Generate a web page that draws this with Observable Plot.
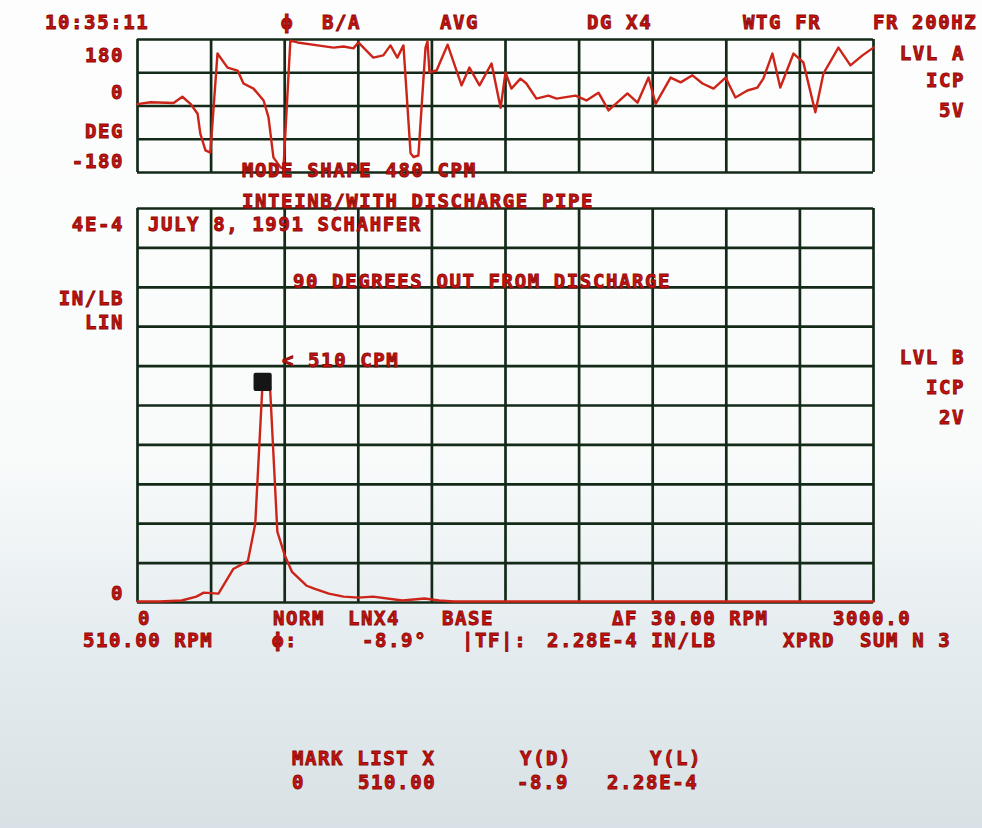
<!DOCTYPE html>
<html><head><meta charset="utf-8">
<script src="https://cdn.jsdelivr.net/npm/d3@7"></script>
<script src="https://cdn.jsdelivr.net/npm/@observablehq/plot@0.6"></script>
<style>
html,body{margin:0;padding:0;}
body{width:982px;height:828px;overflow:hidden;background:linear-gradient(to bottom,#fdfdfd 0%,#f9fbfb 55%,#e6edf0 76%,#d8e1e5 100%);}
#root{position:relative;width:982px;height:828px;}
.t{position:absolute;font-family:"DejaVu Sans Mono",monospace;font-weight:bold;font-size:19px;letter-spacing:1.6px;color:#c8120e;-webkit-text-stroke:0.9px #8c0a08;white-space:pre;line-height:1;transform:translateY(-50%);}
.r{transform:translate(-100%,-50%);}
.p{position:absolute;}
</style></head><body><div id="root"></div>
<script>
// ---- data ----
const rpmGrid = [0, 300, 600, 900, 1200, 1500, 1800, 2100, 2400, 2700, 3000];
const phaseGrid = [-180, -90, 0, 90, 180];
const magGrid = [0, 0.4e-4, 0.8e-4, 1.2e-4, 1.6e-4, 2.0e-4, 2.4e-4, 2.8e-4, 3.2e-4, 3.6e-4, 4.0e-4];

// phase (deg) vs frequency (RPM)
const phaseRpm = [0, 53, 147, 183, 216, 245, 256, 277, 297, 326, 367, 408, 432, 473, 514, 534, 554, 583, 595, 623, 652, 734, 799, 840, 880, 900, 961, 1002, 1031, 1059, 1084, 1113, 1125, 1145, 1174, 1182, 1190, 1219, 1264, 1321, 1353, 1394, 1443, 1480, 1500, 1524, 1561, 1585, 1626, 1675, 1708, 1785, 1830, 1879, 1920, 1997, 2038, 2083, 2112, 2173, 2214, 2262, 2303, 2348, 2397, 2437, 2486, 2527, 2551, 2588, 2620, 2674, 2714, 2763, 2796, 2857, 2906, 2955, 3000];
const phaseDeg = [5, 10, 8, 25, 6, -21, -75, -120, -126, 142, 104, 96, 61, 47, 15, -31, -139, -166, -169, 177, 172, 164, 158, 161, 156, 172, 131, 137, 164, 131, 164, -128, -138, -134, 158, 175, 91, 96, 166, 56, 104, 56, 115, -5, 91, 47, 74, 61, 20, 28, 20, 28, 15, 36, -12, 34, 9, 77, 6, 77, 64, 83, 61, 47, 77, 23, 42, 50, 74, 142, 50, 142, 118, -17, 88, 158, 110, 137, 158];

// |TF| (IN/LB) vs frequency (RPM)
const magRpm = [0, 90, 180, 240, 270, 330, 390, 450, 480, 510, 540, 570, 600, 630, 660, 690, 720, 780, 840, 900, 960, 1080, 1170, 1230, 1290, 1500, 1800, 2100, 2400, 2700, 3000];
const magVal = [0.01e-4, 0.01e-4, 0.02e-4, 0.06e-4, 0.10e-4, 0.09e-4, 0.34e-4, 0.42e-4, 0.80e-4, 2.24e-4, 2.20e-4, 0.72e-4, 0.48e-4, 0.31e-4, 0.24e-4, 0.17e-4, 0.14e-4, 0.09e-4, 0.06e-4, 0.05e-4, 0.06e-4, 0.02e-4, 0.04e-4, 0.02e-4, 0.01e-4, 0.01e-4, 0.01e-4, 0.01e-4, 0.01e-4, 0.01e-4, 0.01e-4];

const markRpm = [510];
const markVal = [2.28e-4];

// text labels
const headerTexts = ["10:35:11", "ϕ", "B/A", "AVG", "DG X4", "WTG FR", "FR 200HZ"];
const phaseAxisTexts = ["180", "0", "DEG", "-180"];
const rightTopTexts = ["LVL A", "ICP", "5V"];
const titleTexts = ["MODE SHAPE 480 CPM", "INTEINB/WITH DISCHARGE PIPE"];
const noteTexts = ["JULY 8, 1991 SCHAHFER", "90 DEGREES OUT FROM DISCHARGE", "< 510 CPM"];
const magAxisTexts = ["4E-4", "IN/LB", "LIN", "0"];
const rightBotTexts = ["LVL B", "ICP", "2V"];
const footer1Texts = ["0", "NORM", "LNX4", "BASE", "ΔF 30.00 RPM", "3000.0"];
const footer2Texts = ["510.00 RPM", "ϕ:", "-8.9°", "|TF|:", "2.28E-4 IN/LB", "XPRD", "SUM N 3"];
const markListTexts = ["MARK LIST X", "Y(D)", "Y(L)", "0", "510.00", "-8.9", "2.28E-4"];

// ---- rendering ----
const root = document.getElementById("root");
const LINE = "#cc2418", GRID = "#142a19";

function txt(s, x, y, right) {
  const d = document.createElement("div");
  d.className = "t" + (right ? " r" : "");
  d.textContent = s;
  d.style.left = x + "px";
  d.style.top = y + "px";
  root.appendChild(d);
}
function place(texts, pos) { texts.forEach((s, i) => txt(s, pos[i][0], pos[i][1], pos[i][2])); }

const M = 4;
// top: phase
const phaseData = phaseRpm.map((r, i) => ({rpm: r, deg: phaseDeg[i]}));
const topPlot = Plot.plot({
  width: 736 + 2 * M, height: 133 + 2 * M, margin: M,
  x: {domain: [0, 3000], axis: null},
  y: {domain: [-180, 180], axis: null},
  style: {background: "transparent", overflow: "visible"},
  marks: [
    Plot.ruleX(rpmGrid, {stroke: GRID, strokeWidth: 2.7}),
    Plot.ruleY(phaseGrid, {stroke: GRID, strokeWidth: 2.7}),
    Plot.line(phaseData, {x: "rpm", y: "deg", stroke: LINE, strokeWidth: 2.4, strokeLinejoin: "round"})
  ]
});
topPlot.classList.add("p");
topPlot.style.left = (137 - M) + "px";
topPlot.style.top = (39 - M) + "px";
root.appendChild(topPlot);

// bottom: magnitude
const magData = magRpm.map((r, i) => ({rpm: r, v: magVal[i]}));
const markData = markRpm.map((r, i) => ({rpm: r, v: markVal[i]}));
const botPlot = Plot.plot({
  width: 736 + 2 * M, height: 394 + 2 * M, margin: M,
  x: {domain: [0, 3000], axis: null},
  y: {domain: [0, 4e-4], axis: null},
  style: {background: "transparent", overflow: "visible"},
  marks: [
    Plot.ruleX(rpmGrid, {stroke: GRID, strokeWidth: 2.7}),
    Plot.ruleY(magGrid, {stroke: GRID, strokeWidth: 2.7}),
    Plot.line(magData, {x: "rpm", y: "v", stroke: LINE, strokeWidth: 2.4, strokeLinejoin: "round"}),
    Plot.dot(markData, {x: "rpm", y: "v", symbol: "square", r: 8, fill: "#151515", stroke: "#151515", strokeWidth: 4, strokeLinejoin: "round", dy: 4})
  ]
});
botPlot.classList.add("p");
botPlot.style.left = (137 - M) + "px";
botPlot.style.top = (208 - M) + "px";
root.appendChild(botPlot);

// text layout
place(headerTexts, [[45, 22], [281, 22], [322, 22], [440, 22], [587, 22], [743, 22], [873, 22]]);
place(phaseAxisTexts, [[124, 55, 1], [124, 92, 1], [124, 131, 1], [124, 161, 1]]);
place(rightTopTexts, [[965, 53, 1], [965, 80, 1], [965, 110, 1]]);
place(titleTexts, [[242, 170], [242, 201]]);
place(noteTexts, [[148, 224], [293, 281], [282, 360]]);
place(magAxisTexts, [[124, 224, 1], [124, 298, 1], [124, 322, 1], [124, 593, 1]]);
place(rightBotTexts, [[965, 357, 1], [965, 387, 1], [965, 417, 1]]);
place(footer1Texts, [[138, 618], [273, 618], [348, 618], [442, 618], [612, 618], [833, 618]]);
place(footer2Texts, [[83, 640], [272, 640], [362, 640], [462, 640], [547, 640], [783, 640], [860, 640]]);
place(markListTexts, [[292, 758], [520, 758], [650, 758], [292, 782], [358, 782], [517, 782], [607, 782]]);
</script></body></html>
